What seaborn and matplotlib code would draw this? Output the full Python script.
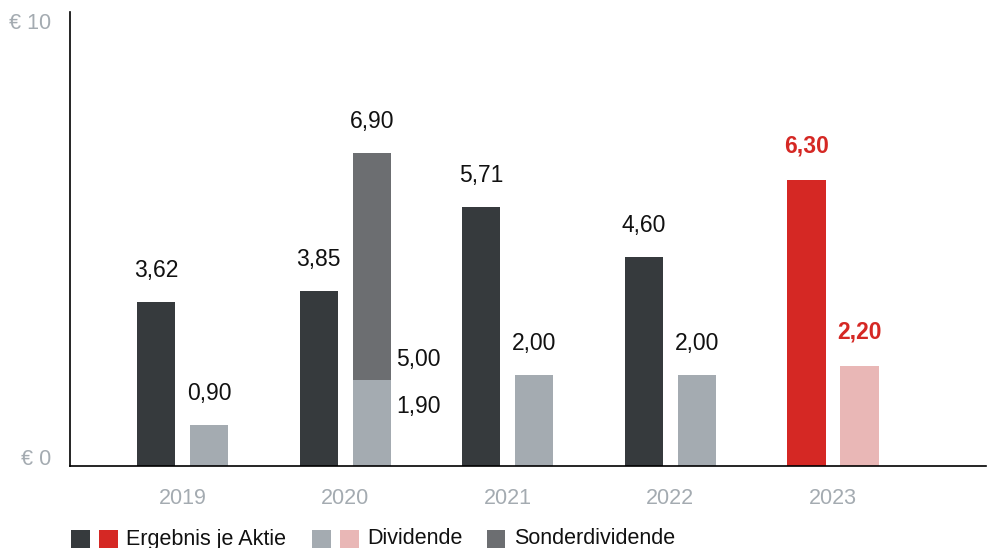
import matplotlib
matplotlib.use("Agg")
import matplotlib.pyplot as plt
from matplotlib.patches import Rectangle
import seaborn as sns
import pandas as pd

# ---- data ----
years = ["2019", "2020", "2021", "2022", "2023"]
eps = [3.62, 3.85, 5.71, 4.60, 6.30]                 # Ergebnis je Aktie
dividend = [0.90, 1.90, 2.00, 2.00, 2.20]            # Dividende
special_dividend = [0.0, 5.00, 0.0, 0.0, 0.0]        # Sonderdividende
series = ["Ergebnis je Aktie", "Dividende"]
legend_labels = ["Ergebnis je Aktie", "Dividende", "Sonderdividende"]
y_tick_values = [0, 10]
y_tick_labels = ["€ 0", "€ 10"]
highlight_year = "2023"

# ---- styles ----
C_EPS = "#363a3d"
C_DIV = "#a4abb1"
C_SPECIAL = "#6c6e71"
C_RED = "#d52824"
C_PINK = "#e9b7b6"
C_GRAYTXT = "#a4abb1"
C_TXT = "#111111"

sns.set_theme(style="white")
plt.rcParams["font.family"] = ["Liberation Sans", "DejaVu Sans"]

W, H = 989, 548
fig = plt.figure(figsize=(W / 100, H / 100), dpi=100)
ax = fig.add_axes([70 / W, (H - 466) / H, (986 - 70) / W, (466 - 12) / H])

df = pd.DataFrame({
    "Jahr": years * 2,
    "Reihe": [series[0]] * len(years) + [series[1]] * len(years),
    "Wert": eps + dividend,
})
# background layer: full stacked height (dividend + special) where a special dividend exists
totals = [d + s if s > 0 else 0.0 for d, s in zip(dividend, special_dividend)]
df_sp = pd.DataFrame({
    "Jahr": years * 2,
    "Reihe": [series[0]] * len(years) + [series[1]] * len(years),
    "Wert": [0.0] * len(years) + totals,
})

common = dict(x="Jahr", y="Wert", hue="Reihe", order=years, hue_order=series,
              width=0.652, gap=0.28, legend=False, ax=ax, errorbar=None,
              saturation=1, linewidth=0)
sns.barplot(data=df_sp, palette={series[0]: C_EPS, series[1]: C_SPECIAL}, **common)
n_sp = len(ax.patches)
sns.barplot(data=df, palette={series[0]: C_EPS, series[1]: C_DIV}, **common)

ax.set_xlim(-0.692, 4.941)
ax.set_ylim(0, 10)


def fmt(v):
    return f"{v:.2f}".replace(".", ",")


FS = 16.5
# special dividend bars (drawn behind, total height)
for p in ax.patches[:n_sp]:
    top = p.get_height()
    if top <= 0:
        p.set_visible(False)
        continue
    cx = p.get_x() + p.get_width() / 2
    i = int(round(cx))
    ax.annotate(fmt(top), (cx, top), xytext=(0, 18), textcoords="offset points",
                ha="center", va="baseline", fontsize=FS, color=C_TXT)
    ax.annotate(fmt(special_dividend[i]), (p.get_x() + p.get_width(), dividend[i]),
                xytext=(4, 10), textcoords="offset points",
                ha="left", va="baseline", fontsize=FS, color=C_TXT)

for p in ax.patches[n_sp:]:
    cx = p.get_x() + p.get_width() / 2
    i = int(round(cx))
    is_eps = cx < i
    h = p.get_height()
    hl = years[i] == highlight_year
    if hl:
        p.set_facecolor(C_RED if is_eps else C_PINK)
    color = C_RED if hl else C_TXT
    weight = "bold" if hl else "normal"
    if (not is_eps) and special_dividend[i] > 0:
        ax.annotate(fmt(h), (p.get_x() + p.get_width(), h), xytext=(4, -24),
                    textcoords="offset points", ha="left", va="baseline",
                    fontsize=FS, color=color, fontweight=weight)
    else:
        ax.annotate(fmt(h), (cx, h), xytext=(0, 20 if hl else 18),
                    textcoords="offset points", ha="center", va="baseline",
                    fontsize=FS, color=color, fontweight=weight)

# axes styling
for s in ["top", "right"]:
    ax.spines[s].set_visible(False)
for s in ["left", "bottom"]:
    ax.spines[s].set_color("#000000")
    ax.spines[s].set_linewidth(1.2)
ax.set_yticks([])
ax.set_xlabel("")
ax.set_ylabel("")
ax.tick_params(axis="x", length=0, pad=16, labelsize=15.5, labelcolor=C_GRAYTXT)

for v, lab in zip(y_tick_values, y_tick_labels):
    off = -12 if v == max(y_tick_values) else 0.8
    ax.annotate(lab, (0, v), xycoords=ax.get_yaxis_transform(), xytext=(-13.5, off),
                textcoords="offset points", ha="right", va="baseline",
                fontsize=15.5, color=C_GRAYTXT)

# legend (manual, bottom)
sq = 18.5
y0 = 530
legend_items = [
    ([C_EPS, C_RED], 71, legend_labels[0]),
    ([C_DIV, C_PINK], 312, legend_labels[1]),
    ([C_SPECIAL], 486.5, legend_labels[2]),
]
for cols, x0, lab in legend_items:
    x = x0
    for c in cols:
        fig.add_artist(Rectangle((x / W, 1 - (y0 + sq) / H), sq / W, sq / H,
                                 transform=fig.transFigure, facecolor=c,
                                 edgecolor="none"))
        x += sq + 9.5
    fig.text((x - 0.5) / W, 1 - 544.5 / H, lab, ha="left", va="baseline",
             fontsize=15.5, color=C_TXT)

fig.savefig("out.png", dpi=100)
